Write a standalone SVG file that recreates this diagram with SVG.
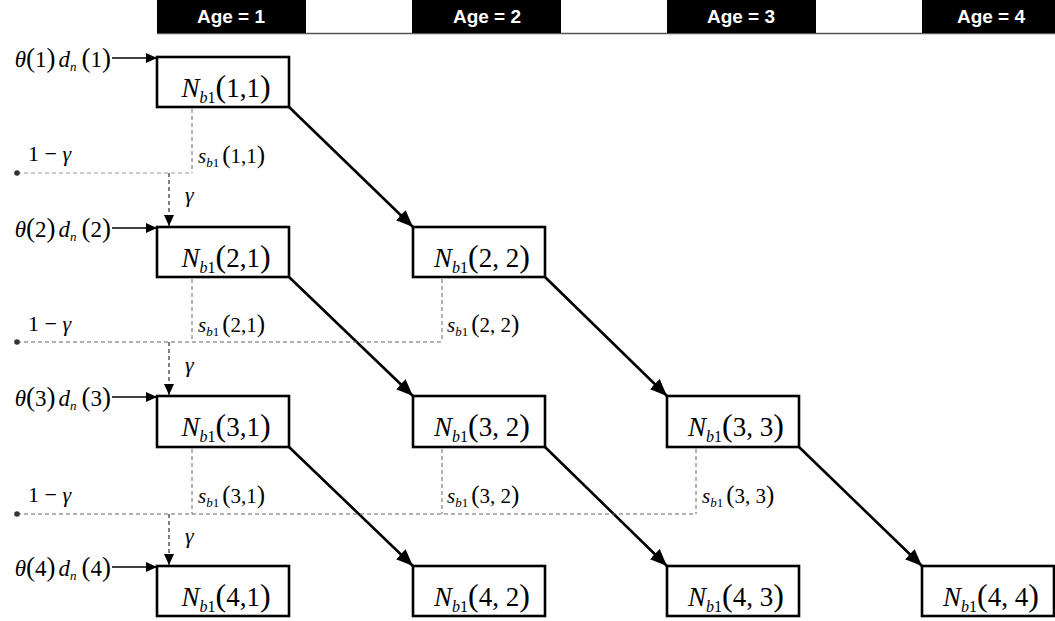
<svg xmlns="http://www.w3.org/2000/svg" width="1055" height="621" viewBox="0 0 1055 621">
<style>
.hdr{fill:#000}
.ht{fill:#fff;font-family:"Liberation Sans",Arial,sans-serif;font-weight:bold;font-size:19px;text-anchor:middle}
.box{fill:#fff;stroke:#000;stroke-width:2.6}
.m{font-family:"Liberation Serif","Times New Roman",serif;fill:#000}
.bt{font-size:27px;text-anchor:middle}
.i{font-style:italic}
.diag{stroke:#000;stroke-width:2.6;fill:none;marker-end:url(#ah)}
.inp{stroke:#000;stroke-width:1.3;fill:none;marker-end:url(#as)}
.dg{stroke:#666;stroke-width:1;stroke-dasharray:4,3;fill:none}
.dl{stroke:#999;stroke-width:1;stroke-dasharray:4,3;fill:none}
.dd{stroke:#000;stroke-width:1;stroke-dasharray:4,3;fill:none;marker-end:url(#as)}
</style>
<defs>
<marker id="ah" markerUnits="userSpaceOnUse" markerWidth="18" markerHeight="14" refX="17" refY="7" orient="auto"><path d="M0,0 L17,7 L0,14 z" fill="#000"/></marker>
<marker id="as" markerUnits="userSpaceOnUse" markerWidth="11" markerHeight="10" refX="11" refY="5" orient="auto"><path d="M0,0 L11,5 L0,10 z" fill="#000"/></marker>
</defs>
<g id="header">
<line x1="157" y1="33.5" x2="1055" y2="33.5" stroke="#555" stroke-width="1.5"/>
<rect class="hdr" x="157" y="0" width="149" height="33"/>
<rect class="hdr" x="412" y="0" width="149" height="33"/>
<rect class="hdr" x="667" y="0" width="149" height="33"/>
<rect class="hdr" x="922" y="0" width="140" height="33"/>
<text class="ht" x="231" y="23">Age = 1</text>
<text class="ht" x="487" y="23">Age = 2</text>
<text class="ht" x="741" y="23">Age = 3</text>
<text class="ht" x="991" y="23">Age = 4</text>
</g>
<g id="connectors">
<line class="diag" x1="289" y1="107" x2="413" y2="227"/>
<line class="diag" x1="289" y1="277" x2="413" y2="396"/>
<line class="diag" x1="545" y1="277" x2="667" y2="396"/>
<line class="diag" x1="289" y1="447" x2="413" y2="566"/>
<line class="diag" x1="545" y1="447" x2="667" y2="566"/>
<line class="diag" x1="799" y1="447" x2="922" y2="566"/>
<line class="inp" x1="112" y1="58" x2="157" y2="58"/>
<line class="inp" x1="112" y1="228" x2="157" y2="228"/>
<line class="inp" x1="112" y1="397" x2="157" y2="397"/>
<line class="inp" x1="112" y1="567" x2="157" y2="567"/>
<line class="dg" x1="192" y1="109" x2="192" y2="173"/>
<line class="dl" x1="17" y1="173" x2="192" y2="173"/>
<line class="dd" x1="169" y1="173" x2="169" y2="226"/>
<line class="dg" x1="192" y1="279" x2="192" y2="342"/>
<line class="dg" x1="442" y1="279" x2="442" y2="342"/>
<line class="dg" x1="17" y1="342" x2="442" y2="342"/>
<line class="dd" x1="169" y1="342" x2="169" y2="395"/>
<line class="dg" x1="192" y1="449" x2="192" y2="514"/>
<line class="dg" x1="442" y1="449" x2="442" y2="514"/>
<line class="dg" x1="696" y1="449" x2="696" y2="514"/>
<line class="dg" x1="17" y1="514" x2="696" y2="514"/>
<line class="dd" x1="169" y1="514" x2="169" y2="565"/>
<circle cx="17" cy="173" r="2.8" fill="#333"/>
<circle cx="17" cy="342" r="2.8" fill="#333"/>
<circle cx="17" cy="514" r="2.8" fill="#333"/>
</g>
<g id="labels" class="m">
<text x="111" y="67" font-size="23" text-anchor="end"><tspan class="i">θ</tspan><tspan font-size="27">(</tspan>1<tspan font-size="27">)</tspan><tspan class="i" dx="3">d</tspan><tspan class="i" font-size="13" dy="4">n</tspan><tspan dy="-4" dx="5" font-size="27">(</tspan>1<tspan font-size="27">)</tspan></text>
<text x="111" y="237" font-size="23" text-anchor="end"><tspan class="i">θ</tspan><tspan font-size="27">(</tspan>2<tspan font-size="27">)</tspan><tspan class="i" dx="3">d</tspan><tspan class="i" font-size="13" dy="4">n</tspan><tspan dy="-4" dx="5" font-size="27">(</tspan>2<tspan font-size="27">)</tspan></text>
<text x="111" y="406" font-size="23" text-anchor="end"><tspan class="i">θ</tspan><tspan font-size="27">(</tspan>3<tspan font-size="27">)</tspan><tspan class="i" dx="3">d</tspan><tspan class="i" font-size="13" dy="4">n</tspan><tspan dy="-4" dx="5" font-size="27">(</tspan>3<tspan font-size="27">)</tspan></text>
<text x="111" y="576" font-size="23" text-anchor="end"><tspan class="i">θ</tspan><tspan font-size="27">(</tspan>4<tspan font-size="27">)</tspan><tspan class="i" dx="3">d</tspan><tspan class="i" font-size="13" dy="4">n</tspan><tspan dy="-4" dx="5" font-size="27">(</tspan>4<tspan font-size="27">)</tspan></text>
<text x="28" y="161" font-size="22">1 − <tspan class="i">γ</tspan></text>
<text x="28" y="331" font-size="22">1 − <tspan class="i">γ</tspan></text>
<text x="28" y="502" font-size="22">1 − <tspan class="i">γ</tspan></text>
<text x="185" y="202" font-size="22" class="i">γ</text>
<text x="185" y="372" font-size="22" class="i">γ</text>
<text x="185" y="543" font-size="22" class="i">γ</text>
<text x="198" y="163" font-size="21"><tspan class="i">s</tspan><tspan font-size="13" dy="4"><tspan class="i">b</tspan>1</tspan><tspan dy="-4" dx="3" font-size="25">(</tspan>1,1<tspan font-size="25">)</tspan></text>
<text x="198" y="332" font-size="21"><tspan class="i">s</tspan><tspan font-size="13" dy="4"><tspan class="i">b</tspan>1</tspan><tspan dy="-4" dx="3" font-size="25">(</tspan>2,1<tspan font-size="25">)</tspan></text>
<text x="447" y="332" font-size="21"><tspan class="i">s</tspan><tspan font-size="13" dy="4"><tspan class="i">b</tspan>1</tspan><tspan dy="-4" dx="3" font-size="25">(</tspan>2, 2<tspan font-size="25">)</tspan></text>
<text x="198" y="503" font-size="21"><tspan class="i">s</tspan><tspan font-size="13" dy="4"><tspan class="i">b</tspan>1</tspan><tspan dy="-4" dx="3" font-size="25">(</tspan>3,1<tspan font-size="25">)</tspan></text>
<text x="447" y="503" font-size="21"><tspan class="i">s</tspan><tspan font-size="13" dy="4"><tspan class="i">b</tspan>1</tspan><tspan dy="-4" dx="3" font-size="25">(</tspan>3, 2<tspan font-size="25">)</tspan></text>
<text x="702" y="503" font-size="21"><tspan class="i">s</tspan><tspan font-size="13" dy="4"><tspan class="i">b</tspan>1</tspan><tspan dy="-4" dx="3" font-size="25">(</tspan>3, 3<tspan font-size="25">)</tspan></text>
</g>
<g id="N11"><rect class="box" x="157" y="57" width="132" height="50"/><text class="m bt" x="226" y="97"><tspan class="i">N</tspan><tspan font-size="16" dy="6"><tspan class="i">b</tspan>1</tspan><tspan dy="-6" font-size="32">(</tspan>1,1<tspan font-size="32">)</tspan></text></g>
<g id="N21"><rect class="box" x="157" y="227" width="132" height="50"/><text class="m bt" x="226" y="267"><tspan class="i">N</tspan><tspan font-size="16" dy="6"><tspan class="i">b</tspan>1</tspan><tspan dy="-6" font-size="32">(</tspan>2,1<tspan font-size="32">)</tspan></text></g>
<g id="N22"><rect class="box" x="413" y="227" width="132" height="50"/><text class="m bt" x="482" y="267"><tspan class="i">N</tspan><tspan font-size="16" dy="6"><tspan class="i">b</tspan>1</tspan><tspan dy="-6" font-size="32">(</tspan>2, 2<tspan font-size="32">)</tspan></text></g>
<g id="N31"><rect class="box" x="157" y="396" width="132" height="51"/><text class="m bt" x="226" y="436"><tspan class="i">N</tspan><tspan font-size="16" dy="6"><tspan class="i">b</tspan>1</tspan><tspan dy="-6" font-size="32">(</tspan>3,1<tspan font-size="32">)</tspan></text></g>
<g id="N32"><rect class="box" x="413" y="396" width="132" height="51"/><text class="m bt" x="482" y="436"><tspan class="i">N</tspan><tspan font-size="16" dy="6"><tspan class="i">b</tspan>1</tspan><tspan dy="-6" font-size="32">(</tspan>3, 2<tspan font-size="32">)</tspan></text></g>
<g id="N33"><rect class="box" x="667" y="396" width="132" height="51"/><text class="m bt" x="736" y="436"><tspan class="i">N</tspan><tspan font-size="16" dy="6"><tspan class="i">b</tspan>1</tspan><tspan dy="-6" font-size="32">(</tspan>3, 3<tspan font-size="32">)</tspan></text></g>
<g id="N41"><rect class="box" x="157" y="566" width="132" height="50"/><text class="m bt" x="226" y="606"><tspan class="i">N</tspan><tspan font-size="16" dy="6"><tspan class="i">b</tspan>1</tspan><tspan dy="-6" font-size="32">(</tspan>4,1<tspan font-size="32">)</tspan></text></g>
<g id="N42"><rect class="box" x="413" y="566" width="132" height="50"/><text class="m bt" x="482" y="606"><tspan class="i">N</tspan><tspan font-size="16" dy="6"><tspan class="i">b</tspan>1</tspan><tspan dy="-6" font-size="32">(</tspan>4, 2<tspan font-size="32">)</tspan></text></g>
<g id="N43"><rect class="box" x="667" y="566" width="132" height="50"/><text class="m bt" x="736" y="606"><tspan class="i">N</tspan><tspan font-size="16" dy="6"><tspan class="i">b</tspan>1</tspan><tspan dy="-6" font-size="32">(</tspan>4, 3<tspan font-size="32">)</tspan></text></g>
<g id="N44"><rect class="box" x="922" y="566" width="132" height="50"/><text class="m bt" x="991" y="606"><tspan class="i">N</tspan><tspan font-size="16" dy="6"><tspan class="i">b</tspan>1</tspan><tspan dy="-6" font-size="32">(</tspan>4, 4<tspan font-size="32">)</tspan></text></g>
</svg>
